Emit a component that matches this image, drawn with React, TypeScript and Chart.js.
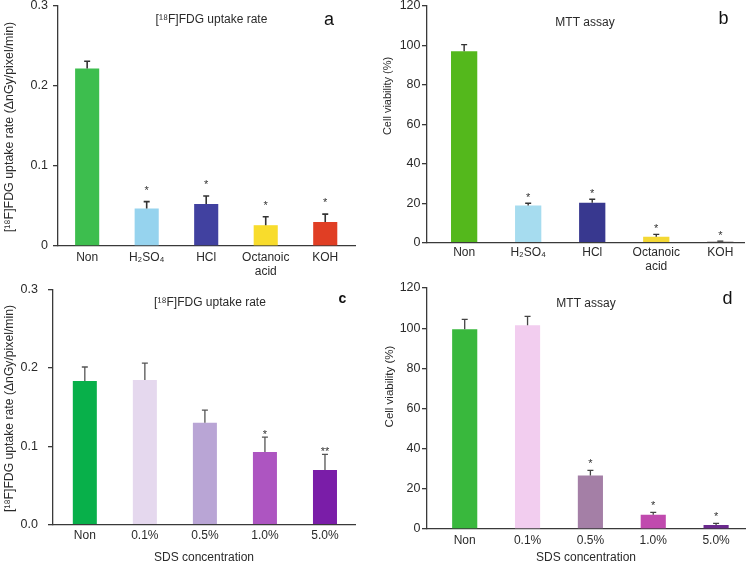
import React, { useEffect, useRef } from 'react';
import { Chart, registerables } from 'chart.js';
Chart.register(...registerables);

const FONT = '"Liberation Sans", Arial, Helvetica, "DejaVu Sans", sans-serif';
const AXIS = '#3a3a3a';
const TEXT = '#2a2a2a';

// ---------------- data ----------------
const acidLabels: (string | string[])[] = ['Non', 'H₂SO₄', 'HCl', ['Octanoic', 'acid'], 'KOH'];
const sdsLabels: (string | string[])[] = ['Non', '0.1%', '0.5%', '1.0%', '5.0%'];

const fdgAcidValues = [0.222, 0.047, 0.0525, 0.026, 0.030];
const fdgAcidErrors = [0.009, 0.0085, 0.010, 0.0105, 0.0098];
const fdgAcidStars = ['', '*', '*', '*', '*'];
const fdgAcidColors = ['#3dbe4e', '#96d3ee', '#4141a0', '#f8dc2c', '#e03e24'];

const mttAcidValues = [97.0, 18.8, 20.3, 3.0, 0.5];
const mttAcidErrors = [3.4, 1.2, 1.7, 1.2, 0.3];
const mttAcidStars = ['', '*', '*', '*', '*'];
const mttAcidColors = ['#54b81c', '#a6dcef', '#38388f', '#f4d834', '#4a3c3c'];

const fdgSdsValues = [0.183, 0.1845, 0.130, 0.0927, 0.0696];
const fdgSdsErrors = [0.018, 0.0215, 0.016, 0.0188, 0.020];
const fdgSdsStars = ['', '', '', '*', '**'];
const fdgSdsColors = ['#08b04a', '#e5d8ee', '#b9a5d5', '#ad55c1', '#7a1da8'];

const mttSdsValues = [99.4, 101.4, 26.7, 7.1, 2.0];
const mttSdsErrors = [5.0, 4.5, 2.5, 1.2, 0.8];
const mttSdsStars = ['', '', '*', '*', '*'];
const mttSdsColors = ['#39b83d', '#f2cdef', '#a47fa6', '#c04aae', '#6b2a8e'];

const fdgTicks = [0, 0.1, 0.2, 0.3];
const fdgAcidTickLabels = ['0', '0.1', '0.2', '0.3'];
const fdgSdsTickLabels = ['0.0', '0.1', '0.2', '0.3'];
const mttTicks = [0, 20, 40, 60, 80, 100, 120];
const mttTickLabels = ['0', '20', '40', '60', '80', '100', '120'];

const fdgYTitle = '[¹⁸F]FDG uptake rate (ΔnGy/pixel/min)';
const mttYTitle = 'Cell viability (%)';
const fdgTitle = '[¹⁸F]FDG uptake rate';
const mttTitle = 'MTT assay';
const sdsXTitle = 'SDS concentration';

// ---------------- layout ----------------
type Box = { x: number; y: number; w: number; h: number };
type Area = { L: number; T: number; R: number; B: number };
type Panel = {
  labels: (string | string[])[];
  values: number[];
  errors: number[];
  stars: string[];
  colors: string[];
  yMax: number;
  yTicks: number[];
  yTickLabels: string[];
  yTitle: string;
  yTitlePos: [number, number];
  yTitleSize: number;
  xTitle?: string;
  title: string;
  letter: string;
  letterBold?: boolean;
  canvas: Box;
  area: Area;
  xMin: number;
  xMax: number;
  barFrac: number;
  xPad: number;
  yPad: number;
  titlePos: [number, number];
  letterPos: [number, number];
  letterSize: number;
  starGap: number;
  errColor: string;
  errWidth: number;
};

const panels: Panel[] = [
  {
    labels: acidLabels, values: fdgAcidValues, errors: fdgAcidErrors, stars: fdgAcidStars, colors: fdgAcidColors,
    yMax: 0.3, yTicks: fdgTicks, yTickLabels: fdgAcidTickLabels, yTitle: fdgYTitle, yTitlePos: [10, 127], yTitleSize: 12.4,
    title: fdgTitle, letter: 'a',
    canvas: { x: 0, y: -14, w: 374, h: 294 }, area: { L: 58, T: 6, R: 355, B: 246 },
    xMin: -0.49, xMax: 4.5, barFrac: 0.405, xPad: 5, yPad: 5,
    titlePos: [211.5, 22.5], letterPos: [329, 25], letterSize: 18, starGap: 14.5, errColor: '#333', errWidth: 1.6,
  },
  {
    labels: acidLabels, values: mttAcidValues, errors: mttAcidErrors, stars: mttAcidStars, colors: mttAcidColors,
    yMax: 120, yTicks: mttTicks, yTickLabels: mttTickLabels, yTitle: mttYTitle, yTitlePos: [387.5, 96], yTitleSize: 11,
    title: mttTitle, letter: 'b',
    canvas: { x: 374, y: -14, w: 374, h: 294 }, area: { L: 427, T: 6, R: 744, B: 242.7 },
    xMin: -0.58, xMax: 4.37, barFrac: 0.41, xPad: 3, yPad: 1.5,
    titlePos: [585, 25.5], letterPos: [723.5, 24], letterSize: 18, starGap: 9, errColor: '#333', errWidth: 1.4,
  },
  {
    labels: sdsLabels, values: fdgSdsValues, errors: fdgSdsErrors, stars: fdgSdsStars, colors: fdgSdsColors,
    yMax: 0.3, yTicks: fdgTicks, yTickLabels: fdgSdsTickLabels, yTitle: fdgYTitle, yTitlePos: [9.5, 408.5], yTitleSize: 12.2,
    xTitle: sdsXTitle, title: fdgTitle, letter: 'c', letterBold: true,
    canvas: { x: 0, y: 268, w: 374, h: 302 }, area: { L: 53, T: 289.3, R: 355, B: 524.7 },
    xMin: -0.53, xMax: 4.5, barFrac: 0.4, xPad: 4, yPad: 10,
    titlePos: [210, 305.5], letterPos: [342.5, 303], letterSize: 14, starGap: 6, errColor: '#555', errWidth: 1.3,
  },
  {
    labels: sdsLabels, values: mttSdsValues, errors: mttSdsErrors, stars: mttSdsStars, colors: mttSdsColors,
    yMax: 120, yTicks: mttTicks, yTickLabels: mttTickLabels, yTitle: mttYTitle, yTitlePos: [390, 386.5], yTitleSize: 11.5,
    xTitle: sdsXTitle, title: mttTitle, letter: 'd',
    canvas: { x: 374, y: 268, w: 374, h: 302 }, area: { L: 427, T: 288, R: 745, B: 529 },
    xMin: -0.6, xMax: 4.46, barFrac: 0.4, xPad: 5, yPad: 1.5,
    titlePos: [586, 307], letterPos: [727.5, 304], letterSize: 18, starGap: 9.5, errColor: '#444', errWidth: 1.3,
  },
];

function makeAnnotPlugin(p: Panel) {
  return {
    id: 'annot',
    afterDatasetsDraw(chart: any) {
      const ctx: CanvasRenderingContext2D = chart.ctx;
      const meta = chart.getDatasetMeta(0);
      const ys = chart.scales.y;
      ctx.save();
      meta.data.forEach((bar: any, i: number) => {
        const v = p.values[i];
        const e = p.errors[i];
        const x = bar.x;
        const y0 = ys.getPixelForValue(v);
        const y1 = ys.getPixelForValue(v + e);
        ctx.strokeStyle = p.errColor;
        ctx.lineWidth = p.errWidth;
        ctx.beginPath();
        ctx.moveTo(x, y0);
        ctx.lineTo(x, y1);
        ctx.moveTo(x - 3, y1);
        ctx.lineTo(x + 3, y1);
        ctx.stroke();
        if (p.stars[i]) {
          ctx.fillStyle = '#333';
          ctx.font = `11px ${FONT}`;
          ctx.textAlign = 'center';
          ctx.textBaseline = 'alphabetic';
          ctx.fillText(p.stars[i], x, y1 - p.starGap + 6.4);
        }
      });
      const cx = p.canvas.x;
      const cy = p.canvas.y;
      ctx.fillStyle = TEXT;
      ctx.textAlign = 'center';
      ctx.textBaseline = 'alphabetic';
      ctx.font = `12px ${FONT}`;
      ctx.fillText(p.title, p.titlePos[0] - cx, p.titlePos[1] - cy);
      ctx.font = `${p.letterBold ? 'bold ' : ''}${p.letterSize}px ${FONT}`;
      ctx.fillStyle = '#111';
      ctx.fillText(p.letter, p.letterPos[0] - cx, p.letterPos[1] - cy);
      // rotated y-axis title
      ctx.save();
      ctx.translate(p.yTitlePos[0] - cx, p.yTitlePos[1] - cy);
      ctx.rotate(-Math.PI / 2);
      ctx.fillStyle = TEXT;
      ctx.font = `${p.yTitleSize}px ${FONT}`;
      ctx.textAlign = 'center';
      ctx.textBaseline = 'middle';
      ctx.fillText(p.yTitle, 0, 0);
      ctx.restore();
      ctx.restore();
    },
  };
}

function PanelChart({ p }: { p: Panel }) {
  const ref = useRef<HTMLCanvasElement | null>(null);
  useEffect(() => {
    if (!ref.current) return;
    const { canvas: c, area: a } = p;
    const yw = a.L - c.x;
    const xh = c.y + c.h - a.B;
    const chart = new Chart(ref.current, {
      type: 'bar',
      data: {
        datasets: [
          {
            data: p.values.map((v, i) => ({ x: i, y: v })) as any,
            backgroundColor: p.colors,
            borderWidth: 0,
            categoryPercentage: 1,
            barPercentage: p.barFrac,
          },
        ],
      },
      options: {
        responsive: false,
        animation: false,
        events: [],
        layout: { padding: { left: 0, top: a.T - c.y, right: c.x + c.w - a.R, bottom: 0 } },
        plugins: { legend: { display: false }, tooltip: { enabled: false }, title: { display: false } },
        scales: {
          x: {
            type: 'linear',
            min: p.xMin,
            max: p.xMax,
            offset: false,
            grid: { display: false, drawTicks: false, offset: false },
            border: { display: true, color: AXIS, width: 1.3 },
            afterBuildTicks: (s: any) => {
              s.ticks = p.labels.map((_, i) => ({ value: i }));
            },
            ticks: {
              callback: (v: any) => p.labels[Math.round(Number(v))] ?? '',
              padding: p.xPad,
              maxRotation: 0,
              autoSkip: false,
              color: TEXT,
              font: { family: FONT, size: 12, lineHeight: 1.15 },
            },
            title: {
              display: !!p.xTitle,
              text: p.xTitle || '',
              color: TEXT,
              font: { family: FONT, size: 12 },
              padding: { top: 0, bottom: 4.8 },
            },
            afterFit: (s: any) => {
              s.height = xh;
            },
          } as any,
          y: {
            type: 'linear',
            min: 0,
            max: p.yMax,
            afterBuildTicks: (s: any) => {
              s.ticks = p.yTicks.map((v) => ({ value: v }));
            },
            ticks: {
              callback: (_v: any, i: number) => p.yTickLabels[i],
              padding: p.yPad,
              color: TEXT,
              font: { family: FONT, size: 12.5 },
            },
            grid: { drawOnChartArea: false, drawTicks: true, tickLength: 5, color: AXIS, lineWidth: 1.3 },
            border: { display: true, color: AXIS, width: 1.3 },
            title: { display: false },
            afterFit: (s: any) => {
              s.width = yw;
            },
          } as any,
        },
      },
      plugins: [makeAnnotPlugin(p)],
    });
    return () => chart.destroy();
  }, [p]);
  return (
    <canvas
      ref={ref}
      width={p.canvas.w}
      height={p.canvas.h}
      style={{ position: 'absolute', left: p.canvas.x, top: p.canvas.y, width: p.canvas.w, height: p.canvas.h }}
    />
  );
}

export default function App() {
  return (
    <div
      style={{
        position: 'fixed',
        left: 0,
        top: 0,
        width: 748,
        height: 564,
        overflow: 'hidden',
        background: '#fff',
      }}
    >
      {panels.map((p, i) => (
        <PanelChart key={i} p={p} />
      ))}
    </div>
  );
}
